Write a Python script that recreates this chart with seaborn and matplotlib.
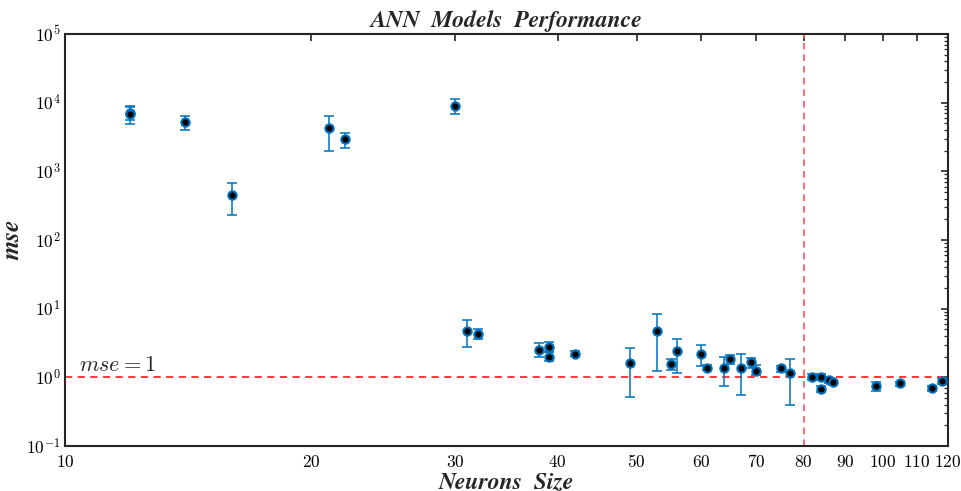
import numpy as np
import pandas as pd
import matplotlib
matplotlib.use("Agg")
import matplotlib.pyplot as plt
import seaborn as sns
from matplotlib.ticker import FixedLocator, FixedFormatter, LogLocator, NullFormatter, FuncFormatter

# data
neurons = [12, 12, 14, 16, 21, 22, 30, 31, 32, 38, 39, 39, 42, 49, 53, 55, 56, 60, 61,
           64, 65, 67, 69, 70, 75, 77, 82, 84, 84, 86, 87, 98, 105, 115, 118]
mse = [7000, 6900, 5170, 455, 4230, 2930, 9040, 4.74, 4.35, 2.51, 2.75, 2.01, 2.22, 1.62,
       4.74, 1.59, 2.40, 2.20, 1.39, 1.36, 1.88, 1.37, 1.65, 1.24, 1.36, 1.14, 1.0, 1.02,
       0.67, 0.91, 0.86, 0.745, 0.815, 0.69, 0.88]
mse_low = [5660, 4955, 3960, 230, 1960, 2195, 6920, 2.75, 3.56, 1.95, 2.32, 1.74, 2.03, 0.51,
           1.23, 1.30, 1.16, 1.44, 1.27, 0.76, 1.59, 0.55, 1.39, 1.08, 1.19, 0.40, 0.91, 0.93,
           0.61, 0.84, 0.80, 0.63, 0.76, 0.63, 0.80]
mse_high = [8835, 8600, 6470, 681, 6470, 3660, 11430, 6.78, 5.14, 3.14, 3.22, 2.32, 2.43, 2.72,
            8.29, 1.84, 3.59, 2.97, 1.50, 1.97, 2.15, 2.20, 1.92, 1.50, 1.47, 1.86, 1.11, 1.12,
            0.74, 0.98, 0.93, 0.86, 0.87, 0.76, 0.97]
x_ticks = [10, 20, 30, 40, 50, 60, 70, 80, 90, 100, 110, 120]
mse_limit = 1
neuron_limit = 80

df = pd.DataFrame({"neurons": neurons, "mse": mse, "low": mse_low, "high": mse_high})

sns.set_theme(style="white")
plt.rcParams["mathtext.fontset"] = "cm"
plt.rcParams["axes.edgecolor"] = "#262626"

fig = plt.figure(figsize=(9.61, 4.91), dpi=100)
ax = fig.add_axes([0.068, 0.0916, 0.918, 0.8392])

blue = "#0072BD"
ax.errorbar(df["neurons"], df["mse"],
            yerr=[df["mse"] - df["low"], df["high"] - df["mse"]],
            fmt="none", ecolor=blue, elinewidth=1.3, capsize=3.5, capthick=1.3, alpha=0.85, zorder=2)
sns.scatterplot(data=df, x="neurons", y="mse", ax=ax, color="black", edgecolor=blue,
                linewidth=1.5, s=36, zorder=3)

ax.axhline(mse_limit, color="#FF2A2A", ls=(0, (4, 3)), lw=1.3, zorder=1)
ax.axvline(neuron_limit, color="#FF5555", ls=(0, (4, 3)), lw=1.2, zorder=1)

ax.set_xscale("log")
ax.set_yscale("log")
ax.set_xlim(10, 120)
ax.set_ylim(1e-1, 1e5)

ax.xaxis.set_major_locator(FixedLocator(x_ticks))
ax.xaxis.set_major_formatter(FixedFormatter([f"${t}$" for t in x_ticks]))
ax.xaxis.set_minor_locator(FixedLocator([]))
ax.yaxis.set_major_locator(LogLocator(base=10, numticks=10))
ax.yaxis.set_major_formatter(FuncFormatter(lambda v, p: r"$10^{%d}$" % round(np.log10(v))))
ax.yaxis.set_minor_locator(LogLocator(base=10, subs=np.arange(2, 10), numticks=20))
ax.yaxis.set_minor_formatter(NullFormatter())
ax.tick_params(which="both", direction="in", top=True, right=True, labelsize=12.5,
               colors="#262626", labelcolor="black")
ax.tick_params(axis="x", pad=5)
ax.tick_params(which="major", length=5, width=1.2)
ax.tick_params(which="minor", length=3, width=0.9)
for sp in ax.spines.values():
    sp.set_linewidth(1.5)

font = dict(family="STIXGeneral", style="italic", weight="bold")
ax.set_title("ANN  Models  Performance", fontsize=17, pad=5, **font)
ax.set_xlabel("Neurons  Size", fontsize=17, labelpad=0, **font)
ax.set_ylabel("mse", fontsize=18, **font)
ax.yaxis.set_label_coords(-0.047, 0.5)
ax.text(10.4, 1.25, r"$mse = 1$", fontsize=16)

plt.savefig("out.png", dpi=100)
